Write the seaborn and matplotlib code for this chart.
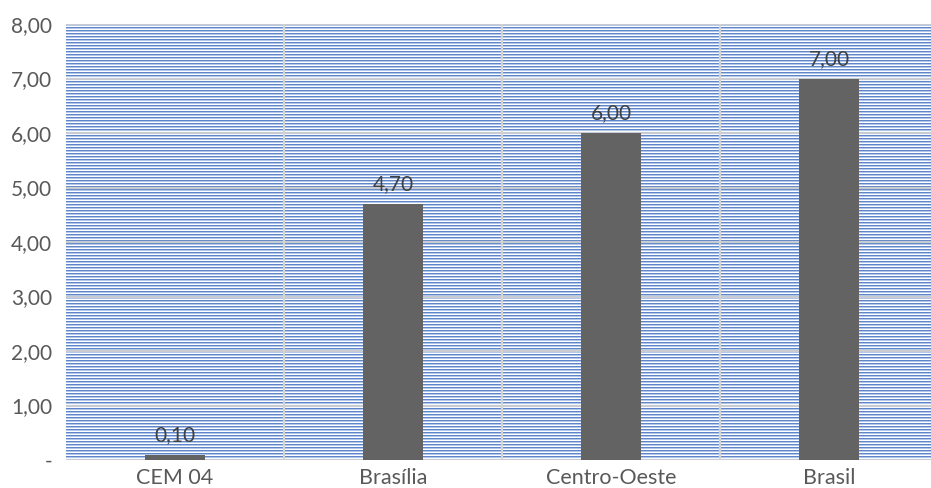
import numpy as np
import matplotlib
matplotlib.use("Agg")
import matplotlib.pyplot as plt
import seaborn as sns

# Values per region
categories = ["CEM 04", "Brasília", "Centro-Oeste", "Brasil"]
values = [0.10, 4.70, 6.00, 7.00]
y_ticks = [0, 1, 2, 3, 4, 5, 6, 7, 8]

sns.set_theme(style="white")
plt.rcParams["font.family"] = ["Lato", "DejaVu Sans"]

W, H, DPI = 931, 488, 100
fig = plt.figure(figsize=(W / DPI, H / DPI), dpi=DPI)
left, right, top, bottom = 66, 938, 24, 460
ax = fig.add_axes([left / W, 1 - bottom / H, (right - left) / W, (bottom - top) / H])

# Striped plot-area fill (horizontal pinstripes, 3 px period)
n_rows = bottom - top
stripe_cols = np.array([[0x5e, 0x86, 0xc8], [0xb2, 0xc7, 0xea], [0xff, 0xff, 0xff]]) / 255.0
stripes = np.array([stripe_cols[i % 3] for i in range(n_rows)]).reshape(n_rows, 1, 3)
ax.imshow(stripes, extent=(0, 1, 0, 1), transform=ax.transAxes, aspect="auto",
          interpolation="nearest", zorder=0)

sns.barplot(x=categories, y=values, color="#636363", saturation=1, width=0.275,
            edgecolor="none", linewidth=0, ax=ax, zorder=3)

ax.set_xlim(-0.5, len(categories) - 0.5)
ax.set_ylim(0, 8)

# Gridlines
for t in y_ticks:
    ax.axhline(t, color="#c8ccd2", lw=1.6, zorder=1)
for b in np.arange(0.5, len(categories) - 1, 1.0):
    ax.axvline(b, color="#d4d4d4", lw=1.6, zorder=1)

for s in ax.spines.values():
    s.set_visible(False)

ax.set_yticks(y_ticks)
ax.set_yticklabels(["-" if t == 0 else f"{t:.2f}".replace(".", ",") for t in y_ticks])
ax.tick_params(axis="y", length=0, pad=10, labelsize=15, labelcolor="#595959")
ax.tick_params(axis="x", length=0, pad=6, labelsize=15.5, labelcolor="#595959")
ax.set_xlabel("")
ax.set_ylabel("")

ax.bar_label(ax.containers[0], labels=[f"{v:.2f}".replace(".", ",") for v in values],
             padding=7, fontsize=15, color="#404040")

fig.savefig("out.png", dpi=DPI)
